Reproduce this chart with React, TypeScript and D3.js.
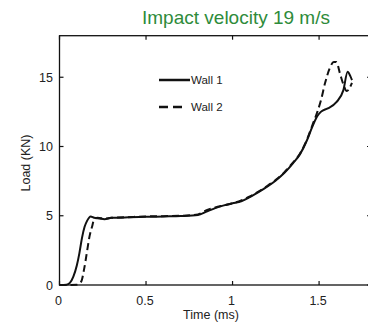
import React from "react";
import * as d3 from "d3";

const title = "Impact velocity 19 m/s";
const xLabel = "Time (ms)";
const yLabel = "Load (KN)";
const xTicks = [0, 0.5, 1, 1.5];
const yTicks = [0, 5, 10, 15];
const seriesNames = ["Wall 1", "Wall 2"];

const wall1Time = [0, 0.04, 0.06, 0.08, 0.1, 0.115, 0.13, 0.145, 0.16, 0.18, 0.2, 0.23, 0.26, 0.3, 0.35, 0.4, 0.5, 0.6, 0.7, 0.8, 0.85, 0.9, 0.95, 1.0, 1.05, 1.1, 1.15, 1.2, 1.25, 1.3, 1.35, 1.39, 1.43, 1.46, 1.49, 1.51, 1.55, 1.6, 1.64, 1.665, 1.68, 1.69];
const wall1Load = [0, 0.02, 0.15, 0.6, 1.4, 2.3, 3.4, 4.2, 4.65, 4.95, 4.85, 4.8, 4.75, 4.85, 4.85, 4.9, 4.92, 4.95, 4.98, 5.05, 5.3, 5.55, 5.75, 5.9, 6.05, 6.35, 6.7, 7.1, 7.55, 8.1, 8.8, 9.45, 10.45, 11.4, 12.2, 12.5, 12.75, 13.2, 14.05, 15.4, 15.1, 14.8];

const wall2Time = [0, 0.1, 0.12, 0.13, 0.14, 0.15, 0.16, 0.175, 0.19, 0.2, 0.22, 0.26, 0.3, 0.4, 0.5, 0.6, 0.7, 0.8, 0.85, 0.9, 0.95, 1.0, 1.05, 1.1, 1.15, 1.2, 1.25, 1.3, 1.35, 1.39, 1.43, 1.46, 1.49, 1.51, 1.535, 1.56, 1.585, 1.6, 1.62, 1.64, 1.66, 1.675, 1.69];
const wall2Load = [0, 0.02, 0.15, 0.4, 1.0, 1.7, 2.5, 3.6, 4.3, 4.75, 4.85, 4.8, 4.85, 4.9, 4.95, 4.97, 5.0, 5.1, 5.4, 5.6, 5.75, 5.9, 6.1, 6.4, 6.75, 7.15, 7.6, 8.15, 8.85, 9.5, 10.5, 11.5, 12.5, 13.3, 14.6, 15.6, 16.1, 16.1, 15.3, 14.5, 14.0, 14.2, 14.6];

const W = 368;
const H = 325;
const font = "'Liberation Sans', Arial, Helvetica, sans-serif";

export default function App() {
  const x = d3.scaleLinear().domain([0, 1.8]).range([59.5, 371]);
  const y = d3.scaleLinear().domain([0, 18]).range([285, 35.7]);
  const line = d3
    .line<[number, number]>()
    .x((d) => x(d[0]))
    .y((d) => y(d[1]))
    .curve(d3.curveMonotoneX);
  const d1 = line(wall1Time.map((t, i) => [t, wall1Load[i]] as [number, number])) || "";
  const d2 = line(wall2Time.map((t, i) => [t, wall2Load[i]] as [number, number])) || "";
  const [x0, x1] = x.range();
  const [y0, y1] = y.range();
  const tl = 4;
  return (
    <div style={{ position: "absolute", left: 0, top: 0 }}>
      <svg width={W} height={H} style={{ display: "block", background: "#fff" }}>
        <rect x={0} y={0} width={W} height={H} fill="#fff" />
        <text x={236} y={24} textAnchor="middle" fontFamily={font} fontSize={19} fill="#2e8b3a">
          {title}
        </text>
        {/* frame */}
        <rect x={x0} y={y1} width={x1 - x0} height={y0 - y1} fill="none" stroke="#111" strokeWidth={1.3} />
        {/* x ticks */}
        {xTicks.map((t) => (
          <g key={"xt" + t}>
            <line x1={x(t)} x2={x(t)} y1={y0} y2={y0 - tl} stroke="#111" strokeWidth={1.2} />
            <line x1={x(t)} x2={x(t)} y1={y1} y2={y1 + tl} stroke="#111" strokeWidth={1.2} />
            <text x={x(t) - 1} y={305} textAnchor="middle" fontFamily={font} fontSize={12.5} fill="#222">
              {String(t)}
            </text>
          </g>
        ))}
        {yTicks.map((t) => (
          <g key={"yt" + t}>
            <line x1={x0} x2={x0 + tl} y1={y(t)} y2={y(t)} stroke="#111" strokeWidth={1.2} />
            <line x1={x1} x2={x1 - tl} y1={y(t)} y2={y(t)} stroke="#111" strokeWidth={1.2} />
            <text x={53} y={y(t) + 4.5} textAnchor="end" fontFamily={font} fontSize={12.5} fill="#222">
              {String(t)}
            </text>
          </g>
        ))}
        <text x={211} y={319} textAnchor="middle" fontFamily={font} fontSize={12.5} fill="#222">
          {xLabel}
        </text>
        <text
          transform={`translate(30,163) rotate(-90)`}
          textAnchor="middle"
          fontFamily={font}
          fontSize={12.5}
          fill="#222"
        >
          {yLabel}
        </text>
        <path d={d1} fill="none" stroke="#111" strokeWidth={2} strokeLinejoin="round" />
        <path d={d2} fill="none" stroke="#111" strokeWidth={2} strokeDasharray="7,4" />
        {/* legend */}
        <line x1={159} x2={190} y1={80} y2={80} stroke="#111" strokeWidth={2.5} />
        <text x={191} y={84} fontFamily={font} fontSize={11.5} fill="#222">
          {seriesNames[0]}
        </text>
        <line x1={159} x2={182} y1={107} y2={107} stroke="#111" strokeWidth={2.5} strokeDasharray="9,5" />
        <text x={191} y={111} fontFamily={font} fontSize={11.5} fill="#222">
          {seriesNames[1]}
        </text>
      </svg>
    </div>
  );
}
